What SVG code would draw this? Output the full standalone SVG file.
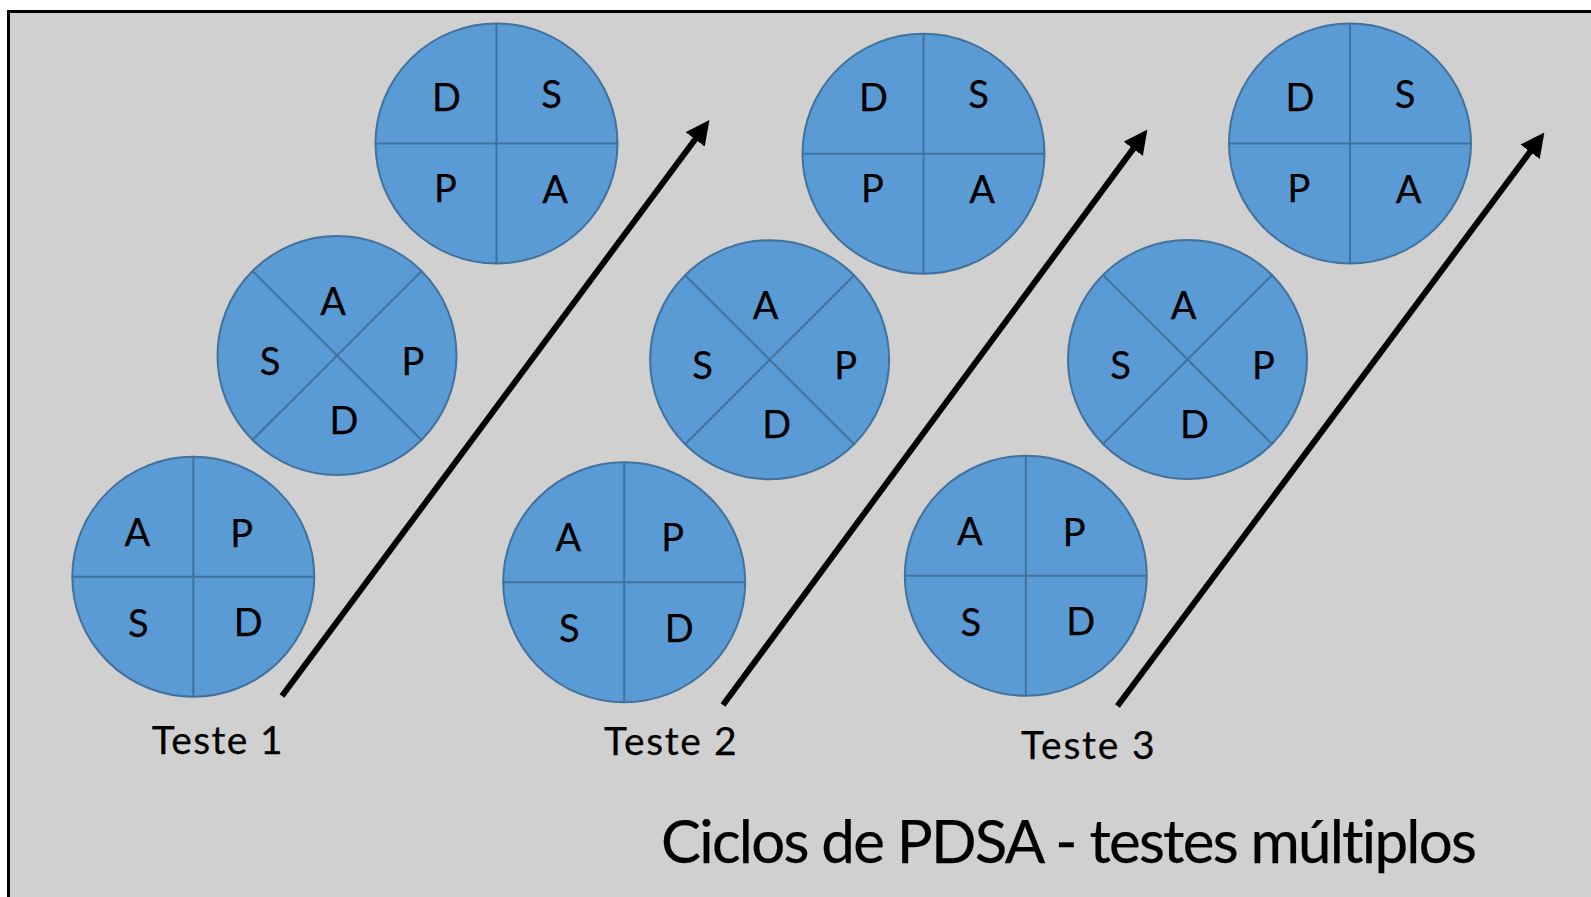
<svg xmlns="http://www.w3.org/2000/svg" width="1591" height="897" viewBox="0 0 1591 897">
<defs>
<style>
.c{fill:#5B9BD5;stroke:#41719C;stroke-width:2}
.d{stroke:#41719C;stroke-width:2;fill:none}
.l,.t,.h{font-family:Lato,"Open Sans","Liberation Sans",sans-serif;fill:#000;stroke:#000;stroke-width:0.25;font-variant-ligatures:none}
.l{font-size:38px;text-anchor:middle}
.t{font-size:39px}
.h{font-size:60px}
.a{stroke:#000;stroke-width:6;fill:none;marker-end:url(#ah)}
</style>
<marker id="ah" markerUnits="userSpaceOnUse" viewBox="0 0 24 24" markerWidth="24" markerHeight="24" refX="13" refY="12" orient="auto">
<path d="M0,0 L24,12 L0,24 z" fill="#000"/>
</marker>
</defs>
<rect x="0" y="0" width="1591" height="897" fill="#fff"/>
<rect x="8.5" y="11.5" width="1600" height="900" fill="#D0D0D0" stroke="#000" stroke-width="3"/>

<!-- Column 1 -->
<g id="c1-top">
<ellipse class="c" cx="496.5" cy="143.5" rx="121" ry="120"/>
<path class="d" d="M496.5,23.5 V263.5 M375.5,143.5 H617.5"/>
<text class="l" x="446.5" y="110.7">D</text><text class="l" x="551.5" y="107.7">S</text>
<text class="l" x="445.5" y="201.7">P</text><text class="l" x="555" y="202.7">A</text>
</g>
<g id="c1-mid">
<circle class="c" cx="337" cy="355.5" r="119.5"/>
<path class="d" d="M252.5,271 L421.5,440 M421.5,271 L252.5,440"/>
<text class="l" x="333" y="314.5">A</text><text class="l" x="270" y="375">S</text>
<text class="l" x="413" y="375">P</text><text class="l" x="344" y="433.5">D</text>
</g>
<g id="c1-bot">
<ellipse class="c" cx="193.3" cy="576.7" rx="121" ry="120"/>
<path class="d" d="M193.3,456.7 V696.7 M72.3,576.7 H314.3"/>
<text class="l" x="137.3" y="546">A</text><text class="l" x="241.7" y="546.5">P</text>
<text class="l" x="138.3" y="636.5">S</text><text class="l" x="248.3" y="636">D</text>
</g>

<!-- Column 2 -->
<g id="c2-top">
<ellipse class="c" cx="923.5" cy="153.7" rx="121" ry="120"/>
<path class="d" d="M923.5,33.7 V273.7 M802.5,153.7 H1044.5"/>
<text class="l" x="873.5" y="110.7">D</text><text class="l" x="978.5" y="107.7">S</text>
<text class="l" x="872.5" y="201.7">P</text><text class="l" x="982" y="202.7">A</text>
</g>
<g id="c2-mid">
<circle class="c" cx="769.6" cy="359.7" r="119.5"/>
<path class="d" d="M685.1,275.2 L854.1,444.2 M854.1,275.2 L685.1,444.2"/>
<text class="l" x="765.6" y="318.7">A</text><text class="l" x="702.6" y="379.2">S</text>
<text class="l" x="845.6" y="379.2">P</text><text class="l" x="776.6" y="437.7">D</text>
</g>
<g id="c2-bot">
<ellipse class="c" cx="624.2" cy="582.3" rx="121" ry="120"/>
<path class="d" d="M624.2,462.3 V702.3 M503.2,582.3 H745.2"/>
<text class="l" x="568.3" y="550.7">A</text><text class="l" x="672.7" y="550.7">P</text>
<text class="l" x="569.3" y="641.5">S</text><text class="l" x="679.3" y="641.5">D</text>
</g>

<!-- Column 3 -->
<g id="c3-top">
<ellipse class="c" cx="1350" cy="143.5" rx="121" ry="120"/>
<path class="d" d="M1350,23.5 V263.5 M1229,143.5 H1471"/>
<text class="l" x="1300" y="110.7">D</text><text class="l" x="1405" y="107.7">S</text>
<text class="l" x="1299" y="201.7">P</text><text class="l" x="1408.5" y="202.7">A</text>
</g>
<g id="c3-mid">
<circle class="c" cx="1187.5" cy="359.5" r="119.5"/>
<path class="d" d="M1103,275 L1272,444 M1272,275 L1103,444"/>
<text class="l" x="1183.5" y="318.5">A</text><text class="l" x="1120.5" y="379">S</text>
<text class="l" x="1263.5" y="379">P</text><text class="l" x="1194.5" y="437.5">D</text>
</g>
<g id="c3-bot">
<ellipse class="c" cx="1025.8" cy="575.8" rx="121" ry="120"/>
<path class="d" d="M1025.8,455.8 V695.8 M904.8,575.8 H1146.8"/>
<text class="l" x="969.8" y="545">A</text><text class="l" x="1074.2" y="545.8">P</text>
<text class="l" x="970.8" y="635.8">S</text><text class="l" x="1080.8" y="635.1">D</text>
</g>

<!-- Connectors -->
<g id="arrows">
<line class="a" x1="282" y1="696" x2="702.85" y2="128.93"/>
<line class="a" x1="723" y1="705" x2="1140.87" y2="138.35"/>
<line class="a" x1="1117.5" y1="706" x2="1537.83" y2="141.32"/>
</g>

<g id="labels">
<text class="t" x="151.7" y="754" textLength="131" lengthAdjust="spacing">Teste 1</text>
<text class="t" x="604" y="755" textLength="132.7" lengthAdjust="spacing">Teste 2</text>
<text class="t" x="1021" y="758.5" textLength="133.5" lengthAdjust="spacing">Teste 3</text>
<text class="h" x="661" y="862.5" textLength="816" lengthAdjust="spacing">Ciclos de PDSA - testes múltiplos</text>
</g>
</svg>
